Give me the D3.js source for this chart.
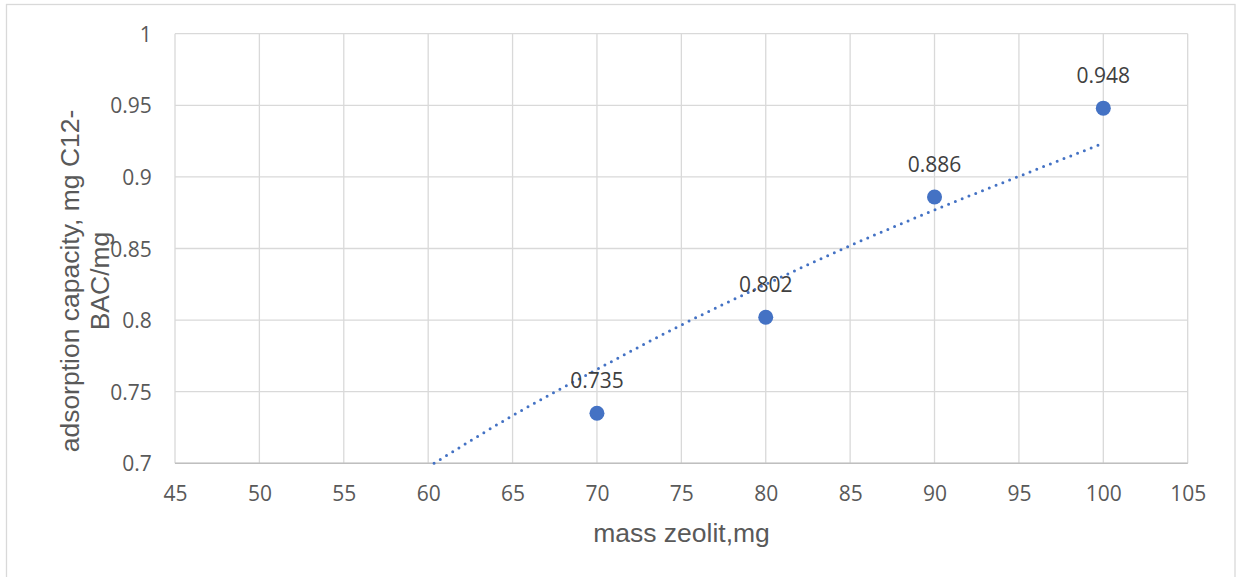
<!DOCTYPE html>
<html>
<head>
<meta charset="utf-8">
<script src="https://cdn.jsdelivr.net/npm/d3@7"></script>
<style>
  html, body { margin: 0; padding: 0; background: #fff; }
  svg { display: block; }
</style>
</head>
<body>
<svg id="chart" width="1242" height="577"></svg>
<script>
// Measured adsorption capacity versus zeolite mass
const massZeolit = [70, 80, 90, 100];
const adsorption = [0.735, 0.802, 0.886, 0.948];

// Logarithmic trendline, sampled along the mass axis
const trendMass = [60.35, 65, 70, 75, 80, 85, 90, 95, 100];
const trendValue = [0.700, 0.7333, 0.7656, 0.7966, 0.8250, 0.8520, 0.8769, 0.9004, 0.9235];

// Axis ticks
const xTicks = [45, 50, 55, 60, 65, 70, 75, 80, 85, 90, 95, 100, 105];
const yTicks = [0.7, 0.75, 0.8, 0.85, 0.9, 0.95, 1];

const xTitle = "mass zeolit,mg";
const yTitleLines = ["adsorption capacity, mg C12-", "BAC/mg"];

const svg = d3.select("#chart");
const plot = { left: 175, right: 1187.7, top: 33.7, bottom: 463.3 };

const x = d3.scaleLinear().domain([45, 105]).range([plot.left, plot.right]);
const y = d3.scaleLinear().domain([0.7, 1]).range([plot.bottom, plot.top]);

// Outer chart frame
svg.append("rect")
  .attr("x", 6.5).attr("y", 4.5)
  .attr("width", 1228.5).attr("height", 600)
  .attr("fill", "none").attr("stroke", "#d9d9d9").attr("stroke-width", 1.3);

// Gridlines
const grid = svg.append("g");
grid.selectAll("line.v").data(xTicks).join("line")
  .attr("x1", d => x(d)).attr("x2", d => x(d))
  .attr("y1", plot.top).attr("y2", plot.bottom)
  .attr("stroke", "#d9d9d9").attr("stroke-width", 1.3);
grid.selectAll("line.h").data(yTicks).join("line")
  .attr("x1", plot.left).attr("x2", plot.right)
  .attr("y1", d => y(d)).attr("y2", d => y(d))
  .attr("stroke", "#d9d9d9").attr("stroke-width", 1.3);

// Horizontal axis line
svg.append("line")
  .attr("x1", plot.left).attr("x2", plot.right)
  .attr("y1", plot.bottom).attr("y2", plot.bottom)
  .attr("stroke", "#bfbfbf").attr("stroke-width", 1.5);

// Tick labels
const tickFont = "'Open Sans', 'Noto Sans', sans-serif";
const xAxis = d3.axisBottom(x).tickValues(xTicks).tickSize(0).tickPadding(0).tickFormat(d3.format("d"));
const gx = svg.append("g").attr("transform", `translate(0,${plot.bottom})`).call(xAxis);
gx.select(".domain").remove();
gx.selectAll("text")
  .attr("y", 38).attr("dy", null)
  .attr("font-family", tickFont).attr("font-size", 21).attr("fill", "#595959");

const yAxis = d3.axisLeft(y).tickValues(yTicks).tickSize(0).tickPadding(0).tickFormat(d => d3.format("")(+d.toFixed(2)));
const gy = svg.append("g").attr("transform", `translate(${plot.left},0)`).call(yAxis);
gy.select(".domain").remove();
gy.selectAll("text")
  .attr("x", -23.3).attr("dy", "0.36em")
  .attr("font-family", tickFont).attr("font-size", 21).attr("fill", "#595959");

// Trendline (dotted)
const trend = trendMass.map((m, i) => [m, trendValue[i]]);
svg.append("path")
  .datum(trend)
  .attr("d", d3.line().x(d => x(d[0])).y(d => y(d[1])).curve(d3.curveMonotoneX))
  .attr("fill", "none")
  .attr("stroke", "#4472C4")
  .attr("stroke-width", 3)
  .attr("stroke-linecap", "round")
  .attr("stroke-dasharray", "0 7.3");

// Data points
const pts = massZeolit.map((m, i) => ({ m, v: adsorption[i] }));
svg.append("g").selectAll("circle").data(pts).join("circle")
  .attr("cx", d => x(d.m)).attr("cy", d => y(d.v))
  .attr("r", 7.5).attr("fill", "#4472C4");

// Value labels
svg.append("g").selectAll("text").data(pts).join("text")
  .attr("x", d => x(d.m)).attr("y", d => y(d.v) - 25)
  .attr("text-anchor", "middle")
  .attr("font-family", tickFont).attr("font-size", 21).attr("fill", "#404040")
  .text(d => d3.format(".3f")(d.v));

// Axis titles
const titleFont = "'Liberation Sans', Arial, sans-serif";
svg.append("text")
  .attr("x", 681.5).attr("y", 541.7)
  .attr("text-anchor", "middle")
  .attr("font-family", titleFont).attr("font-size", 26.5).attr("fill", "#595959")
  .text(xTitle);

const yTitle = svg.append("text")
  .attr("transform", "translate(79,281) rotate(-90)")
  .attr("text-anchor", "middle")
  .attr("font-family", titleFont).attr("font-size", 26.5).attr("fill", "#595959");
yTitle.selectAll("tspan").data(yTitleLines).join("tspan")
  .attr("x", 0).attr("y", (d, i) => i * 29.5)
  .text(d => d);
</script>
</body>
</html>
